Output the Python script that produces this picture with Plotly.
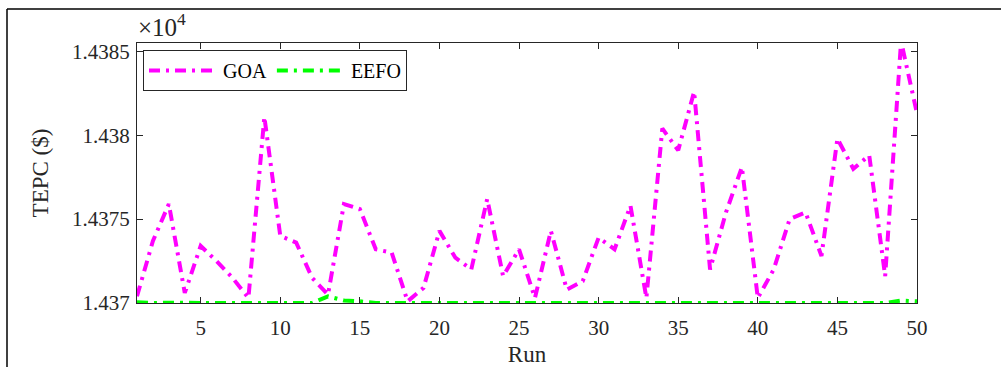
import plotly.graph_objects as go

runs = list(range(1, 51))
goa = [14370.4, 14373.7, 14375.9, 14370.6, 14373.4, 14372.5, 14371.5, 14370.3, 14381.1, 14374.0,
       14373.6, 14371.5, 14370.5, 14375.9, 14375.6, 14373.2, 14373.0, 14370.1, 14370.9, 14374.3,
       14372.7, 14372.0, 14376.2, 14371.6, 14373.2, 14370.3, 14374.3, 14370.8, 14371.3, 14373.9,
       14373.2, 14375.8, 14370.3, 14380.4, 14379.1, 14382.6, 14372.0, 14375.4, 14378.1, 14370.3,
       14372.0, 14375.0, 14375.4, 14372.8, 14379.8, 14378.0, 14378.8, 14371.6, 14385.6, 14381.3]
eefo = [14370.05, 14370.0, 14370.02, 14370.0, 14370.0, 14370.0, 14370.0, 14370.0, 14370.0, 14370.0,
        14370.0, 14370.0, 14370.4, 14370.15, 14370.1, 14370.0, 14370.0, 14370.0, 14370.0, 14370.0,
        14370.0, 14370.0, 14370.0, 14370.0, 14370.02, 14370.05, 14370.03, 14370.0, 14370.0, 14370.0,
        14370.0, 14370.0, 14370.0, 14370.0, 14370.0, 14370.0, 14370.0, 14370.0, 14370.0, 14370.05,
        14370.02, 14370.0, 14370.0, 14370.0, 14370.0, 14370.0, 14370.0, 14370.0, 14370.15, 14370.1]

x_ticks = [5, 10, 15, 20, 25, 30, 35, 40, 45, 50]
y_ticks = [14370, 14375, 14380, 14385]
y_ticktext = ["1.437", "1.4375", "1.438", "1.4385"]

FONT = "Liberation Serif, Times New Roman, DejaVu Serif, serif"
AX = "#262626"
DASH = "11px,6px,3px,6px"

fig = go.Figure()
fig.add_trace(go.Scatter(x=runs, y=goa, mode="lines", name="GOA",
                         line=dict(color="#ff00ff", width=4, dash=DASH)))
fig.add_trace(go.Scatter(x=runs, y=eefo, mode="lines", name="EEFO",
                         line=dict(color="#00ff00", width=4, dash=DASH)))

L, R, T, B = 137, 917, 43, 303
W, H = 1001, 367

def px(x):
    return (x - L) / (R - L)

def py(y):
    return (B - y) / (B - T)

fig.update_layout(
    width=W, height=H,
    margin=dict(l=L, r=W - R, t=T, b=H - B, autoexpand=False),
    paper_bgcolor="white", plot_bgcolor="white",
    font=dict(family=FONT, color=AX, size=22),
    showlegend=True,
    legend=dict(orientation="h", x=px(143), y=py(50), xanchor="left", yanchor="top",
                bgcolor="white", bordercolor=AX, borderwidth=1,
                font=dict(family=FONT, size=20, color="black"),
                itemwidth=69, tracegroupgap=0),
    xaxis=dict(range=[1, 50], tickvals=x_ticks, ticks="inside", ticklen=6, tickcolor=AX,
               showline=True, linecolor=AX, linewidth=1, mirror="ticks", showgrid=False,
               zeroline=False, tickfont=dict(size=21, family=FONT, color=AX), ticklabelstandoff=6,
               title=dict(text="Run", font=dict(size=23, family=FONT, color=AX), standoff=6)),
    yaxis=dict(range=[14370, 14385.5], tickvals=y_ticks, ticktext=y_ticktext, ticks="inside",
               ticklen=6, tickcolor=AX, showline=True, linecolor=AX, linewidth=1, mirror="ticks",
               showgrid=False, zeroline=False, tickfont=dict(size=21, family=FONT, color=AX),
               ticklabelstandoff=2,
               title=dict(text="TEPC ($)", font=dict(size=23, family=FONT, color=AX), standoff=16)),
    annotations=[dict(text="×10<sup>4</sup>", xref="paper", yref="paper", x=px(136), y=py(43),
                      xanchor="left", yanchor="bottom", showarrow=False,
                      font=dict(size=25, family=FONT, color=AX))],
    shapes=[
        dict(type="line", xref="paper", yref="paper", x0=px(7), x1=px(1005), y0=py(9), y1=py(9),
             line=dict(color="black", width=1.5)),
        dict(type="line", xref="paper", yref="paper", x0=px(7), x1=px(7), y0=py(9), y1=py(370),
             line=dict(color="black", width=1.5)),
    ],
)

fig.write_html("out.html", config={"displayModeBar": False},
               post_script="document.body.style.margin='0';document.body.style.overflow='hidden';")
